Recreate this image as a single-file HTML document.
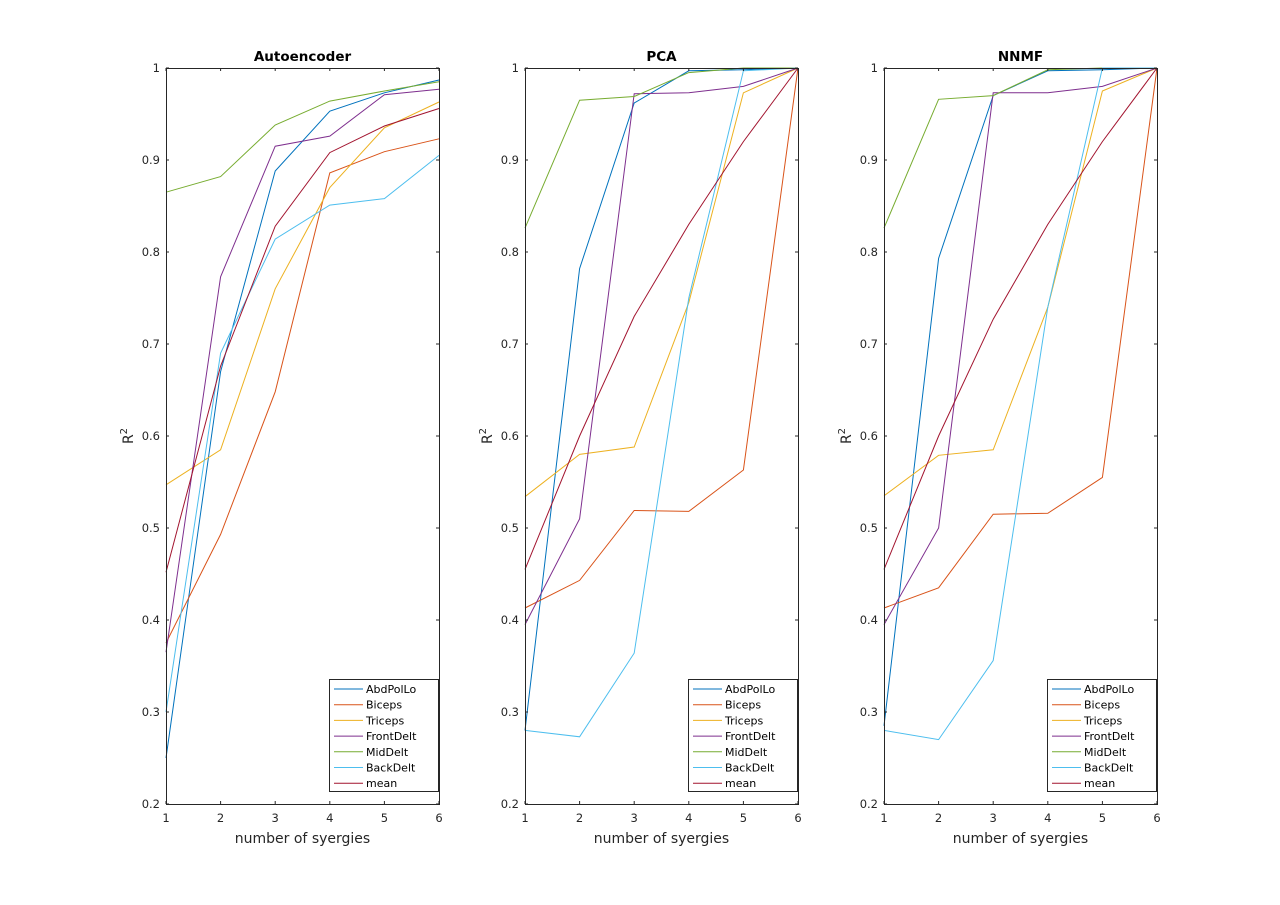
<!DOCTYPE html>
<html><head><meta charset="utf-8"><style>
html,body{margin:0;padding:0;background:#fff;}
svg{display:block;font-family:"DejaVu Sans","Liberation Sans",sans-serif;}
</style></head><body>
<svg id="s" width="1280" height="905" xmlns="http://www.w3.org/2000/svg"></svg>
<script>
const C=["#0072BD","#D95319","#EDB120","#7E2F8E","#77AC30","#4DBEEE","#A2142F"];
const N=["AbdPolLo","Biceps","Triceps","FrontDelt","MidDelt","BackDelt","mean"];
const P=[
{x0:166,t:"Autoencoder",d:[
[0.25,0.67,0.888,0.953,0.973,0.987],
[0.375,0.493,0.648,0.886,0.909,0.923],
[0.547,0.585,0.76,0.87,0.935,0.963],
[0.365,0.773,0.915,0.926,0.971,0.977],
[0.865,0.882,0.938,0.964,0.975,0.985],
[0.30,0.69,0.814,0.851,0.858,0.905],
[0.452,0.676,0.828,0.908,0.937,0.956]]},
{x0:525,t:"PCA",d:[
[0.28,0.782,0.962,0.997,0.998,1],
[0.413,0.443,0.519,0.518,0.563,1],
[0.534,0.58,0.588,0.745,0.973,1],
[0.395,0.51,0.972,0.973,0.98,1],
[0.826,0.965,0.969,0.995,1,1],
[0.28,0.273,0.364,0.75,0.997,1],
[0.455,0.6,0.73,0.83,0.92,1]]},
{x0:884,t:"NNMF",d:[
[0.285,0.793,0.97,0.997,0.998,1],
[0.413,0.435,0.515,0.516,0.555,1],
[0.535,0.579,0.585,0.74,0.975,1],
[0.395,0.5,0.973,0.973,0.98,1],
[0.826,0.966,0.97,0.998,1,1],
[0.28,0.27,0.356,0.74,1,1],
[0.455,0.6,0.727,0.83,0.92,1]]}];
let h="";
const W=273,Y0=68,Y1=804;
const yv=v=>Y1-(v-0.2)*(Y1-Y0)/0.8;
for(const p of P){
 const xv=i=>p.x0+(i-1)*W/5;
 for(let k=0;k<7;k++){
  h+=`<polyline fill="none" stroke="${C[k]}" stroke-width="1" points="${p.d[k].map((v,i)=>xv(i+1).toFixed(1)+","+yv(v).toFixed(1)).join(" ")}"/>`;
 }
 h+=`<rect x="${p.x0}.5" y="${Y0}.5" width="${W}" height="${Y1-Y0}" fill="none" stroke="#262626" stroke-width="1"/>`;
 for(let i=1;i<=6;i++){const x=xv(i);
  h+=`<line x1="${x}" y1="${Y1}" x2="${x}" y2="${Y1-3}" stroke="#262626"/><line x1="${x}" y1="${Y0}" x2="${x}" y2="${Y0+3}" stroke="#262626"/>`;
  h+=`<text x="${x}" y="${Y1+18}" font-size="11.5" text-anchor="middle" fill="#262626">${i}</text>`;}
 for(let j=2;j<=10;j++){const v=j/10,y=yv(v);
  h+=`<line x1="${p.x0}" y1="${y}" x2="${p.x0+3}" y2="${y}" stroke="#262626"/><line x1="${p.x0+W}" y1="${y}" x2="${p.x0+W-3}" y2="${y}" stroke="#262626"/>`;
  h+=`<text x="${p.x0-6}" y="${y+4}" font-size="11.5" text-anchor="end" fill="#262626">${j==10?"1":v.toFixed(1)}</text>`;}
 h+=`<text x="${p.x0+W/2}" y="61" font-size="13.5" font-weight="bold" text-anchor="middle" fill="#000">${p.t}</text>`;
 h+=`<text x="${p.x0+W/2}" y="843" font-size="14" text-anchor="middle" fill="#262626">number of syergies</text>`;
 h+=`<text transform="translate(${p.x0-33},${(Y0+Y1)/2}) rotate(-90)" font-size="14" text-anchor="middle" fill="#262626">R<tspan dy="-6" font-size="10">2</tspan></text>`;
 const lx=p.x0+W-110, ly=679;
 h+=`<rect x="${lx}.5" y="${ly}.5" width="109" height="112" fill="#fff" stroke="#262626"/>`;
 for(let k=0;k<7;k++){const y=ly+10+k*15.7;
  h+=`<line x1="${lx+5}" y1="${y}" x2="${lx+34}" y2="${y}" stroke="${C[k]}"/>`;
  h+=`<text x="${lx+37}" y="${y+4}" font-size="11" fill="#000">${N[k]}</text>`;}
}
document.getElementById("s").innerHTML=h;
</script>
</body></html>
